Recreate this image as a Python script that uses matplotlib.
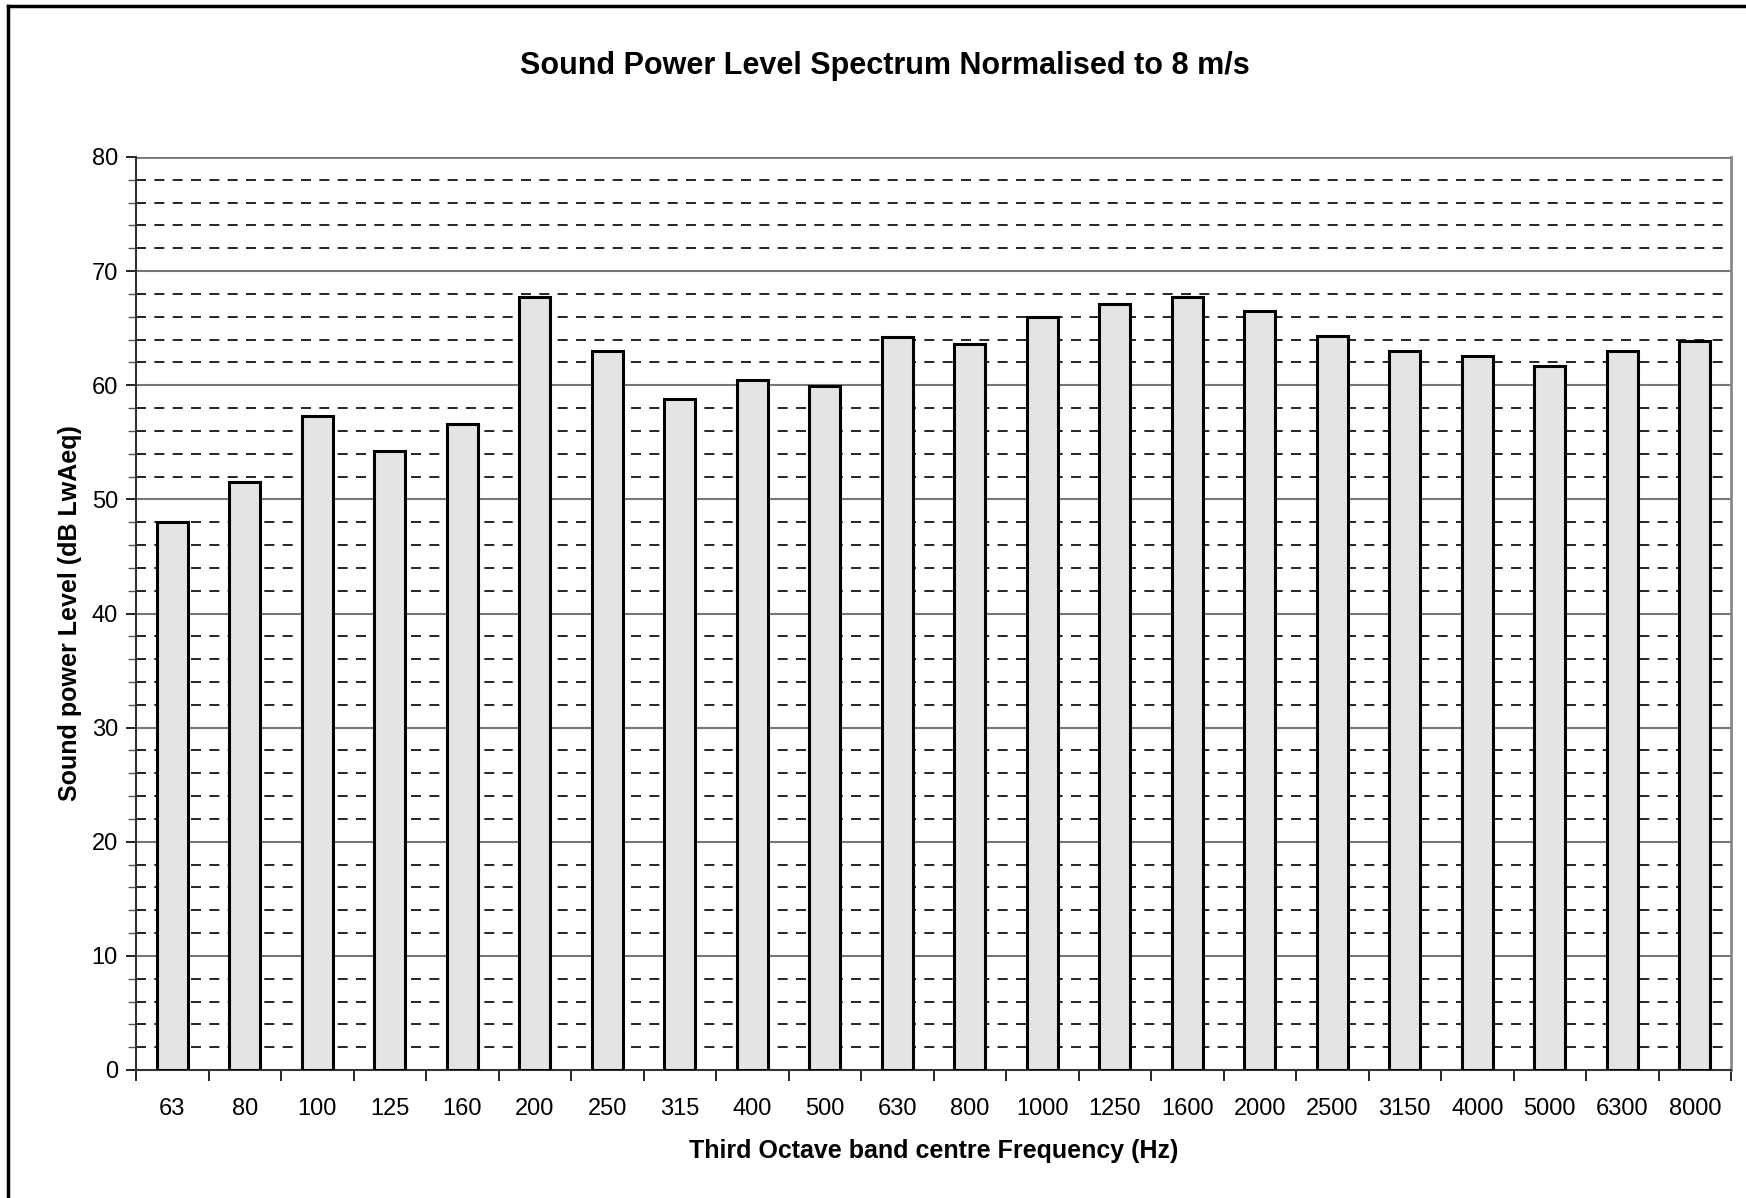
import numpy as np
import matplotlib.pyplot as plt
from matplotlib.lines import Line2D

plt.rcParams["font.family"] = ["Liberation Sans", "DejaVu Sans"]

# third octave band centre frequencies and sound power levels
bands = ["63", "80", "100", "125", "160", "200", "250", "315", "400", "500",
         "630", "800", "1000", "1250", "1600", "2000", "2500", "3150", "4000",
         "5000", "6300", "8000"]
levels = [48.0, 51.5, 57.3, 54.2, 56.6, 67.7, 63.0, 58.8, 60.5, 59.9,
          64.2, 63.6, 66.0, 67.1, 67.7, 66.5, 64.3, 63.0, 62.6, 61.7,
          63.0, 63.9]

fig = plt.figure(figsize=(17.46, 11.98), dpi=100)
ax = fig.add_axes([136 / 1746, 1 - 1070 / 1198, (1731 - 136) / 1746, (1070 - 157) / 1198])

x = np.arange(len(bands))

# grid lines: dashed every 2, solid every 10
for v in range(2, 80, 2):
    if v % 10 == 0:
        ax.axhline(v, color="#777777", linewidth=1.5, zorder=1)
    else:
        ax.axhline(v, color="black", linewidth=1.2, linestyle=(0, (6, 5)), zorder=1)
ax.axhline(80, color="#777777", linewidth=2, zorder=1)

ax.bar(x, levels, width=0.43, color="#e4e4e4", edgecolor="black", linewidth=2.2, zorder=3)

ax.set_xlim(-0.5, len(bands) - 0.5)
ax.set_ylim(0, 80)
ax.set_yticks(range(0, 81, 10))
ax.set_yticks(range(0, 81, 2), minor=True)
ax.set_xticks(x)
ax.set_xticklabels(bands)
ax.set_xticks(np.arange(-0.5, len(bands), 1), minor=True)

ax.tick_params(axis="x", which="major", length=0, labelsize=17, pad=20)
ax.tick_params(axis="x", which="minor", length=8, width=1.2, direction="out")
ax.tick_params(axis="y", which="major", length=7, width=1.2, labelsize=17, pad=6)
ax.tick_params(axis="y", which="minor", length=6, width=1.0, color="#555555")

ax.spines["top"].set_visible(False)
ax.spines["right"].set_color("#888888")
ax.spines["right"].set_linewidth(2)
ax.spines["left"].set_color("#333333")
ax.spines["left"].set_linewidth(1.5)
ax.spines["bottom"].set_color("#333333")
ax.spines["bottom"].set_linewidth(1.5)

ax.set_xlabel("Third Octave band centre Frequency (Hz)", fontsize=18, fontweight="bold", labelpad=14)
ax.set_ylabel("Sound power Level (dB LwAeq)", fontsize=18, fontweight="bold", labelpad=7)

fig.text(885 / 1746, 1 - 66 / 1198, "Sound Power Level Spectrum Normalised to 8 m/s",
         ha="center", va="center", fontsize=22, fontweight="bold")

# chart area border (top and left)
fig.add_artist(Line2D([8 / 1746, 1.0], [1 - 6 / 1198, 1 - 6 / 1198], transform=fig.transFigure,
                      color="black", linewidth=2.5))
fig.add_artist(Line2D([8 / 1746, 8 / 1746], [0.0, 1 - 6 / 1198], transform=fig.transFigure,
                      color="black", linewidth=2.5))

fig.savefig("out.png", dpi=100)
